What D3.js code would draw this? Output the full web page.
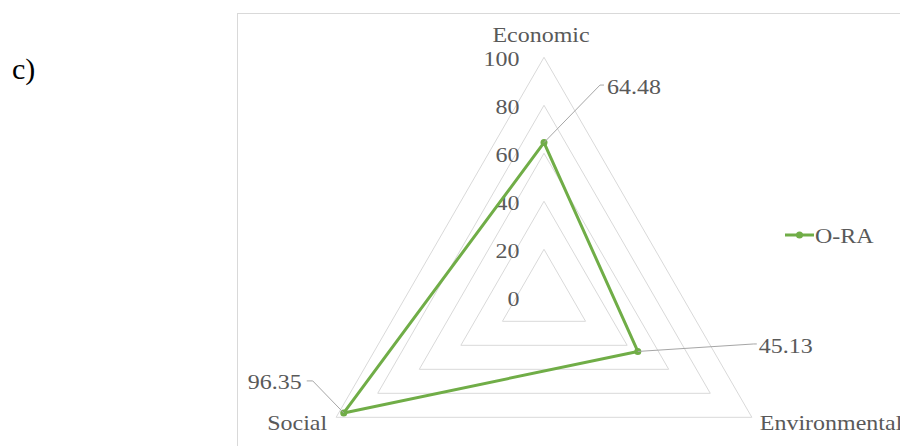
<!DOCTYPE html>
<html>
<head>
<meta charset="utf-8">
<script src="https://cdn.jsdelivr.net/npm/d3@7"></script>
<style>
  html, body { margin: 0; padding: 0; background: #fff; }
  svg { display: block; }
</style>
</head>
<body>
<svg id="chart" width="900" height="446"></svg>
<script>
// Sustainability dimensions and the O-RA scores
const categories = ["Economic", "Environmental", "Social"];
const seriesName = "O-RA";
const seriesValues = [64.48, 45.13, 96.35];
const tickValues = [0, 20, 40, 60, 80, 100];

const cx = 544, cy = 297.3, R = 240;
const green = "#70AD47", grid = "#d9d9d9", textCol = "#595959", leader = "#a6a6a6";
const fs = 22, sx = 1.09;
const serif = "'Liberation Serif', Tinos, 'Times New Roman', Times, serif";

const svg = d3.select("#chart").attr("font-family", serif);

// Radial scale and angle per category (Economic at top, clockwise)
const r = d3.scaleLinear().domain([0, 100]).range([0, R]);
const angle = d3.scaleOrdinal().domain(categories)
  .range(categories.map((_, i) => -Math.PI / 2 + i * 2 * Math.PI / categories.length));
const pt = (cat, v) => [cx + r(v) * Math.cos(angle(cat)), cy + r(v) * Math.sin(angle(cat))];

// Text helper with a slight horizontal stretch
function label(g, x, y, str, anchor, size, fill, stretch) {
  return g.append("text")
    .attr("transform", `translate(${x},${y}) scale(${stretch},1)`)
    .attr("text-anchor", anchor)
    .attr("font-family", serif)
    .attr("font-size", size)
    .attr("fill", fill)
    .text(str);
}

// Panel letter
label(svg, 12, 79, "c)", "start", 30, "#000", 1);

// Chart frame
svg.append("rect")
  .attr("x", 237.5).attr("y", 13.5)
  .attr("width", 700).attr("height", 500)
  .attr("fill", "none").attr("stroke", "#d9d9d9").attr("stroke-width", 1);

// Grid triangles
const lineGen = d3.line();
const gGrid = svg.append("g");
tickValues.filter(v => v > 0).forEach(v => {
  gGrid.append("path")
    .attr("d", lineGen(categories.map(c => pt(c, v))) + "Z")
    .attr("fill", "none").attr("stroke", grid).attr("stroke-width", 1);
});

// Tick labels along the Economic axis
const gTicks = svg.append("g");
tickValues.forEach(v => {
  label(gTicks, 519.5, cy - r(v) + 8.5, String(v), "end", fs, textCol, sx);
});

// Category labels
const gCat = svg.append("g");
const [ex, ey] = pt("Economic", 100);
label(gCat, ex - 3, ey - 15.6, "Economic", "middle", fs, textCol, sx);
const [nx, ny] = pt("Environmental", 100);
label(gCat, nx + 8, ny + 12.5, "Environmental", "start", fs, textCol, sx);
const [sx0, sy0] = pt("Social", 100);
label(gCat, sx0 - 9, sy0 + 12.5, "Social", "end", fs, textCol, sx);

// Series polygon and markers
const pts = categories.map((c, i) => pt(c, seriesValues[i]));
svg.append("path")
  .attr("d", lineGen(pts) + "Z")
  .attr("fill", "none").attr("stroke", green).attr("stroke-width", 3)
  .attr("stroke-linejoin", "round");
svg.append("g").selectAll("circle").data(pts).join("circle")
  .attr("cx", d => d[0]).attr("cy", d => d[1]).attr("r", 3.5).attr("fill", green);

// Data labels with leader lines (offsets from each point)
const labelLayout = {
  Economic:      { text: [63, -49], anchor: "start", path: [[56, -57.5], [60, -57.5]] },
  Environmental: { text: [121, 1.2], anchor: "start", path: [[116, -7.5], [119, -7.5]] },
  Social:        { text: [-42, -24], anchor: "end", path: [[-31, -32], [-37, -32]] }
};
const gLab = svg.append("g");
categories.forEach((c, i) => {
  const [px, py] = pts[i];
  const L = labelLayout[c];
  const poly = [[px, py]].concat(L.path.map(([dx, dy]) => [px + dx, py + dy]));
  gLab.append("path").attr("d", lineGen(poly))
    .attr("fill", "none").attr("stroke", leader).attr("stroke-width", 1);
  label(gLab, px + L.text[0], py + L.text[1], seriesValues[i].toFixed(2), L.anchor, fs, textCol, sx);
});

// Legend
const gLeg = svg.append("g");
gLeg.append("line").attr("x1", 785).attr("x2", 814).attr("y1", 235).attr("y2", 235)
  .attr("stroke", green).attr("stroke-width", 3);
gLeg.append("circle").attr("cx", 799.5).attr("cy", 235).attr("r", 3.5).attr("fill", green);
label(gLeg, 815, 242.5, seriesName, "start", fs, textCol, sx);
</script>
</body>
</html>
